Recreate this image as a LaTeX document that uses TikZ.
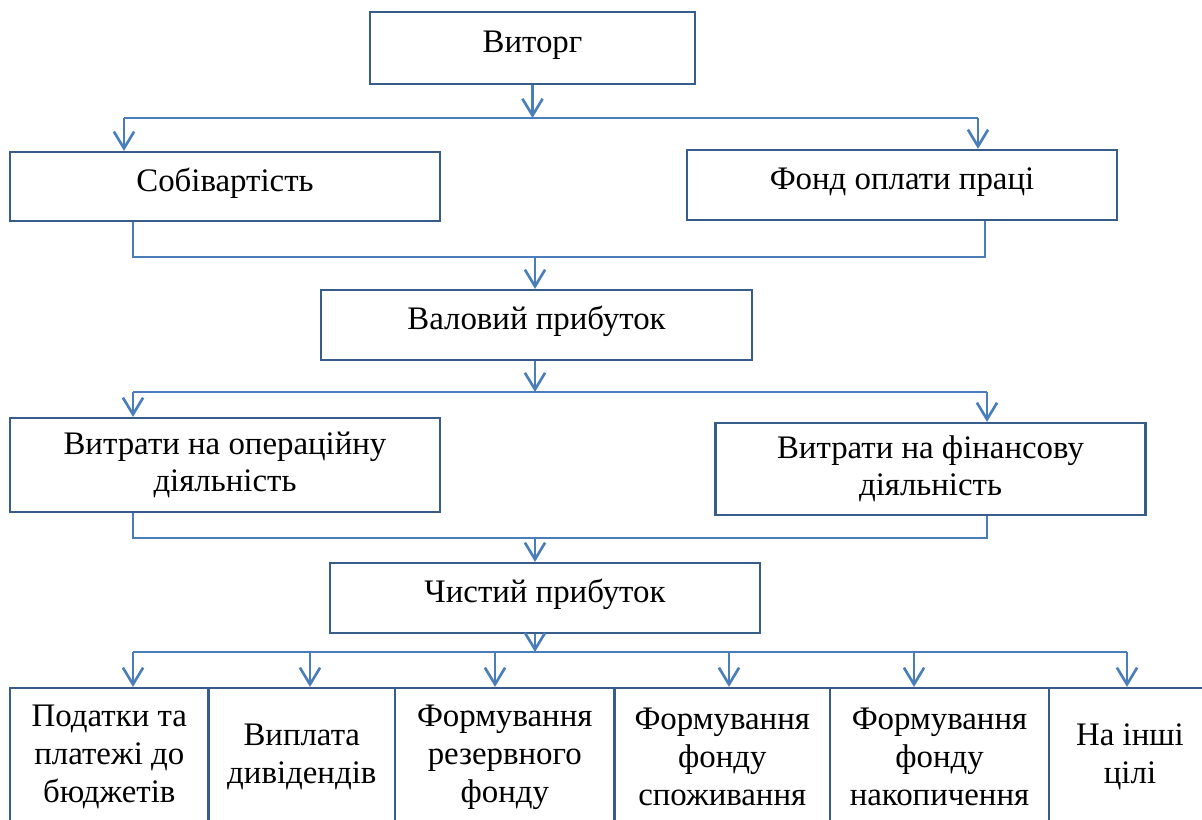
\documentclass[tikz,border=0pt]{standalone}
\usepackage{fontspec}
\setmainfont{Liberation Serif}
\usetikzlibrary{arrows.meta}
\definecolor{boxblue}{RGB}{56,93,138}
\definecolor{lineblue}{RGB}{74,126,187}
\tikzset{
  box/.style={draw=boxblue, line width=1.3pt, minimum width=8.6cm, minimum height=1.4cm,
    inner sep=0pt, align=center, font=\fontsize{18.7}{21.3}\selectfont},
  oneline/.style={text height=13pt, text depth=7.5pt},
  part/.style={box, minimum height=2.76cm, font=\fontsize{18.7}{21.6}\selectfont},
  link/.style={draw=lineblue, line width=1.5pt},
}
\begin{document}
\begin{tikzpicture}[x=0.02cm, y=-0.02cm, >={Straight Barb[length=9.5pt,width=11.5pt]}]
\useasboundingbox (0,0) rectangle (1202,819);
\clip (0,0) rectangle (1202,819);
\node[box,oneline,minimum width=6.5cm,minimum height=1.44cm] (V) at (532.5,48){Виторг};
\node[box,oneline,minimum height=1.38cm] (S) at (225,186.5){Собівартість};
\node[box,oneline] (F) at (902,185){Фонд оплати праці};
\node[box,oneline,minimum width=8.62cm] (VP) at (536.5,325){Валовий прибуток};
\node[box,minimum height=1.88cm] (OD) at (225,465){Витрати на операційну\\діяльність};
\node[box,minimum height=1.84cm] (FD) at (930.5,469){Витрати на фінансову\\діяльність};
\node[box,oneline] (CP) at (545,598){Чистий прибуток};
\node[part,minimum width=3.97cm] (P1) at (109.3,757){Податки та\\платежі до\\бюджетів};
\node[part,minimum width=3.73cm] (P2) at (301.8,757){Виплата\\дивідендів};
\node[part,minimum width=4.39cm] (P3) at (504.75,757){Формування\\резервного\\фонду};
\node[part,minimum width=4.31cm] (P4) at (722.25,757){Формування\\фонду\\споживання};
\node[part,minimum width=4.38cm] (P5) at (939.5,757){Формування\\фонду\\накопичення};
\node[part,minimum width=3.24cm] (P6) at (1130,757){На інші\\цілі};
% Виторг
\coordinate (a1) at (124,118);
\coordinate (a2) at (978,118);
\draw[link,->] (V.south) -- (V.south |- a1);
\draw[link] (a1) -- (a2);
\draw[link,->] (a1) -- (a1 |- S.north);
\draw[link,->] (a2) -- (a2 |- F.north);
% Валовий прибуток
\coordinate (b0) at (535,257);
\coordinate (b1) at (133,257);
\coordinate (b2) at (985,257);
\draw[link] (b1 |- S.south) -- (b1) -- (b2) -- (b2 |- F.south);
\draw[link,->] (b0) -- (b0 |- VP.north);
\coordinate (c1) at (133,392);
\coordinate (c2) at (987,392);
\draw[link,->] (VP.south -| b0) -- (b0 |- c1);
\draw[link] (c1) -- (c2);
\draw[link,->] (c1) -- (c1 |- OD.north);
\draw[link,->] (c2) -- (c2 |- FD.north);
% Чистий прибуток
\coordinate (d0) at (535,538);
\coordinate (d1) at (133,538);
\coordinate (d2) at (987,538);
\draw[link] (d1 |- OD.south) -- (d1) -- (d2) -- (d2 |- FD.south);
\draw[link,->] (d0) -- (d0 |- CP.north);
\coordinate (e0) at (535,652);
\draw[link,->] (CP.south -| e0) -- (e0);
\foreach \n/\x in {P1/133,P2/310,P3/495,P4/729,P5/914,P6/1127}{
  \coordinate (e\n) at (\x,652);
  \draw[link,->] (e\n) -- (e\n |- \n.north);
}
\draw[link] (eP1) -- (eP6);
\end{tikzpicture}
\end{document}
